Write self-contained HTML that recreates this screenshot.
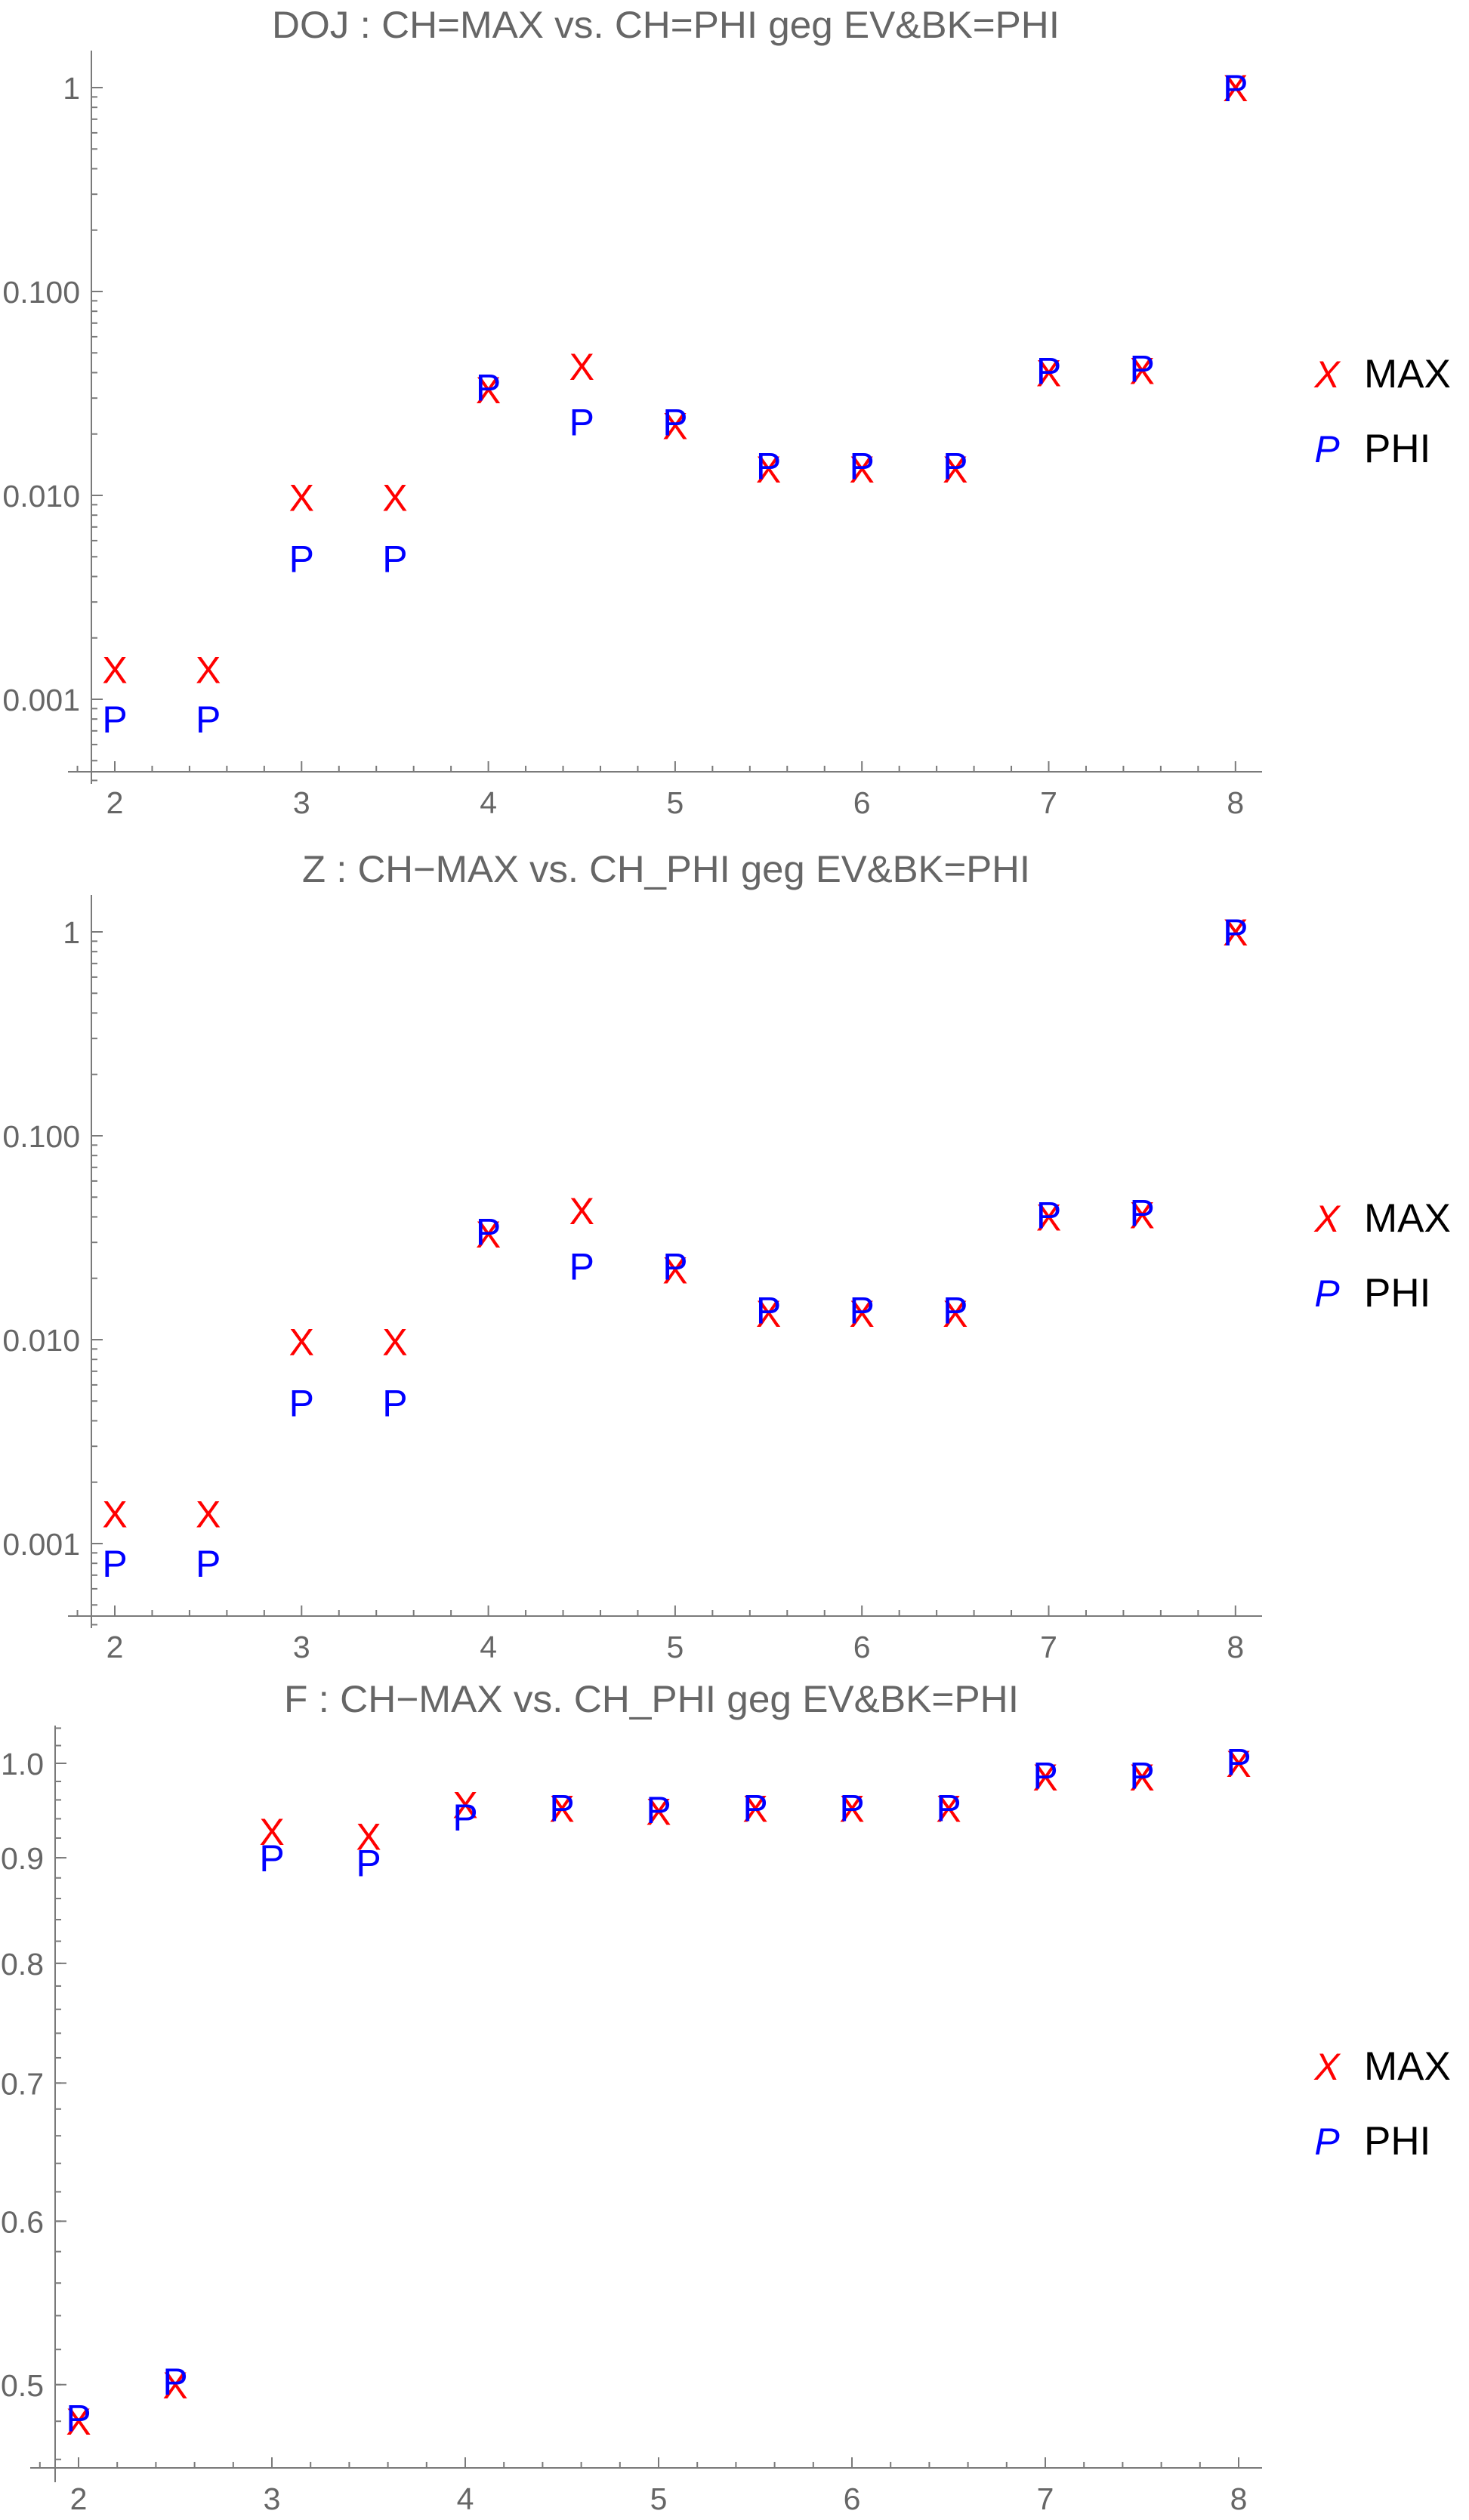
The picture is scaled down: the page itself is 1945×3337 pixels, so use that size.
<!DOCTYPE html>
<html><head><meta charset="utf-8"><title>CH MAX vs PHI</title>
<style>
html,body{margin:0;padding:0;background:#fff;}
svg{display:block;}
</style></head>
<body>
<svg id="chart" width="1945" height="3337" viewBox="0 0 1945 3337" xmlns="http://www.w3.org/2000/svg" font-family="'Liberation Sans', sans-serif"></svg>
<script>
// ---- data ----
const xCats = [2, 2.5, 3, 3.5, 4, 4.5, 5, 5.5, 6, 6.5, 7, 7.5, 8];
const dojMax = [0.0014, 0.0014, 0.0098, 0.0098, 0.033, 0.043, 0.022, 0.0135, 0.0135, 0.0135, 0.040, 0.041, 1.0];
const dojPhi = [0.0008, 0.0008, 0.0049, 0.0049, 0.034, 0.023, 0.023, 0.014, 0.014, 0.014, 0.041, 0.042, 1.0];
const zMax = [0.0014, 0.0014, 0.0098, 0.0098, 0.033, 0.043, 0.022, 0.0135, 0.0135, 0.0135, 0.040, 0.041, 1.0];
const zPhi = [0.0008, 0.0008, 0.0049, 0.0049, 0.034, 0.023, 0.023, 0.014, 0.014, 0.014, 0.041, 0.042, 1.0];
const fMax = [0.48, 0.50, 0.927, 0.922, 0.955, 0.951, 0.948, 0.951, 0.951, 0.951, 0.985, 0.985, 1.0];
const fPhi = [0.482, 0.502, 0.90, 0.895, 0.942, 0.952, 0.950, 0.952, 0.952, 0.952, 0.987, 0.987, 1.002];
const xTickLabels = ["2", "3", "4", "5", "6", "7", "8"];
const logTickLabels = ["0.001", "0.010", "0.100", "1"];
const logTickValues = [0.001, 0.01, 0.1, 1];
const fTickLabels = ["0.5", "0.6", "0.7", "0.8", "0.9", "1.0"];
const fTickValues = [0.5, 0.6, 0.7, 0.8, 0.9, 1.0];
const titles = ["DOJ : CH=MAX vs. CH=PHI geg EV&BK=PHI", "Z : CH\u2212MAX vs. CH_PHI geg EV&BK=PHI", "F : CH\u2212MAX vs. CH_PHI geg EV&BK=PHI"];
const seriesNames = ["MAX", "PHI"];

const NS = "http://www.w3.org/2000/svg";
const svg = document.getElementById("chart");
function mk(tag, attrs, parent) {
  const e = document.createElementNS(NS, tag);
  for (const k in attrs) e.setAttribute(k, attrs[k]);
  (parent || svg).appendChild(e);
  return e;
}
const AX = "#7a7a7a", TX = "#666666";

function panel(cfg) {
  const g = mk("g", {});
  
  
  const xs = v => cfg.x2 + (v - 2) * cfg.unit;
  const ys = cfg.ys;
  const t = mk("text", {x: cfg.titleX1, y: cfg.titleY, "font-size": 50, fill: TX, textLength: cfg.titleX2 - cfg.titleX1, lengthAdjust: "spacingAndGlyphs"}, g);
  t.textContent = cfg.title;
  
  
  const ya = mk("line", {x1: cfg.yAxisX, x2: cfg.yAxisX, y1: cfg.yTop, y2: cfg.yBot, stroke: AX, "stroke-width": 2}, g);
  
  
  const xa = mk("line", {x1: cfg.xAxisL, x2: 1671, y1: cfg.xAxisY, y2: cfg.xAxisY, stroke: AX, "stroke-width": 2}, g);
  
  
  for (let i = 9; i <= 41; i++) {
    const v = i / 5;
    const major = i % 5 === 0;
    const px = xs(v);
    if (px < cfg.xAxisL || px > 1671) continue;
    mk("line", {x1: px, x2: px, y1: cfg.xAxisY, y2: cfg.xAxisY - (major ? 14 : 8), stroke: AX, "stroke-width": 2}, g);
  }
  xTickLabels.forEach(l => {
    const tl = mk("text", {x: xs(+l), y: cfg.xAxisY + 55, "font-size": 41, fill: TX, "text-anchor": "middle"}, g);
    tl.textContent = l;
    
    
  });
  cfg.minorY.forEach(v => {
    const py = ys(v);
    if (py < cfg.yTop || py > cfg.yBot) return;
    mk("line", {x1: cfg.yAxisX, x2: cfg.yAxisX + 8, y1: py, y2: py, stroke: AX, "stroke-width": 2}, g);
  });
  cfg.tickV.forEach((v, i) => {
    const py = ys(v);
    mk("line", {x1: cfg.yAxisX, x2: cfg.yAxisX + 15, y1: py, y2: py, stroke: AX, "stroke-width": 2}, g);
    const tl = mk("text", {x: cfg.yAxisX - 15, y: py + 15, "font-size": 41, fill: TX, "text-anchor": "end"}, g);
    tl.textContent = cfg.tickL[i];
    
    
  });
  const drawSeries = (vals, ch, col, nm) => {
    vals.forEach((v, i) => {
      const m = mk("text", {x: xs(xCats[i]), y: ys(v) + 18, "font-size": 50, fill: col, "text-anchor": "middle"}, g);
      m.textContent = ch;
      
      
    });
  };
  drawSeries(cfg.max, "X", "#ff0000", "max-point");
  drawSeries(cfg.phi, "P", "#0000ff", "phi-point");
  const lg = mk("g", {}, g);
  
  
  [["X", "#ff0000", 0], ["P", "#0000ff", 1]].forEach(([ch, col, k]) => {
    const yy = cfg.legY + k * 99;
    const s = mk("text", {x: 1757, y: yy + 19, "font-size": 50, fill: col, "font-style": "italic", "text-anchor": "middle"}, lg);
    s.textContent = ch;
    
    
    const l = mk("text", {x: 1806, y: yy + 19, "font-size": 53, fill: "#000"}, lg);
    l.textContent = seriesNames[k];
    
    
  });
}

function logMinor(minExp, maxExp) {
  const out = [];
  for (let e = minExp; e <= maxExp; e++) for (let m = 1; m <= 9; m++) out.push(m * Math.pow(10, e));
  return out;
}
function logPanel(off, title, maxV, phiV, name, tx1, tx2) {
  panel({
    name, title, titleX1: tx1, titleX2: tx2, titleY: 50 + off,
    x2: 152, unit: 247.3, yAxisX: 121, yTop: 67 + off, yBot: 1038 + off,
    xAxisY: 1022 + off, xAxisL: 90,
    ys: v => off + 116 - 270 * Math.log10(v),
    tickV: logTickValues, tickL: logTickLabels, minorY: logMinor(-4, 0),
    max: maxV, phi: phiV, legY: 494 + off
  });
}
logPanel(0, titles[0], dojMax, dojPhi, "doj-panel", 360, 1403);
logPanel(1118, titles[1], zMax, zPhi, "z-panel", 400, 1364);

const fMinor = [];
for (let i = 23; i <= 52; i++) fMinor.push(i / 50);
panel({
  name: "f-panel", title: titles[2], titleX1: 376, titleX2: 1349, titleY: 2267,
  x2: 104, unit: 256, yAxisX: 73, yTop: 2285, yBot: 3287,
  xAxisY: 3268, xAxisL: 40,
  ys: v => 2335 - 1187 * Math.log(v),
  tickV: fTickValues, tickL: fTickLabels, minorY: fMinor,
  max: fMax, phi: fPhi, legY: 2735
});
</script>
</body></html>
